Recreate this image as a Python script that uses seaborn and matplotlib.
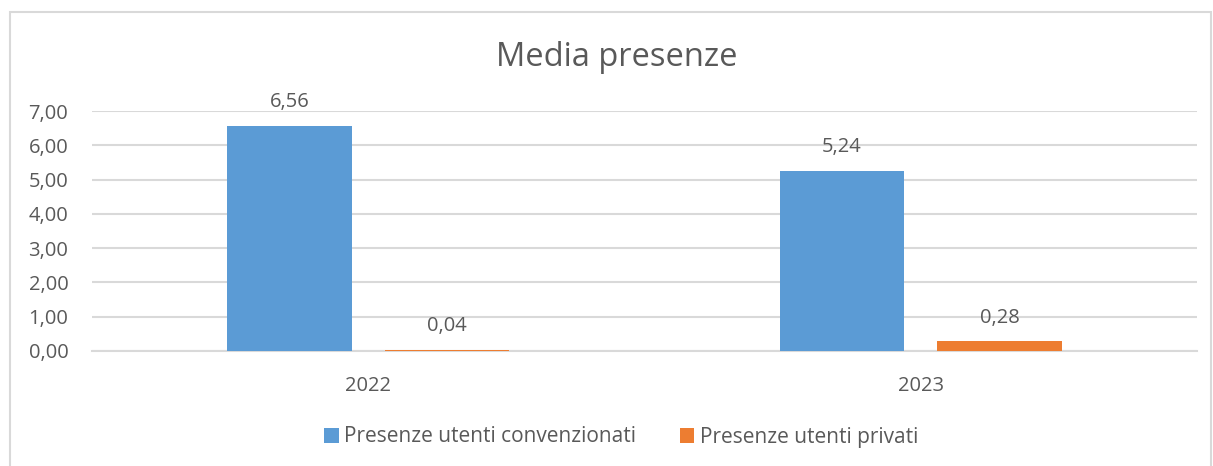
import pandas as pd
import matplotlib
matplotlib.use("Agg")
import matplotlib.pyplot as plt
from matplotlib.patches import Rectangle
from matplotlib.ticker import FuncFormatter, MultipleLocator
import seaborn as sns

# Dati del grafico
anni = ['2022', '2023']
convenzionati = [6.56, 5.24]
privati = [0.04, 0.28]
serie = ['Presenze utenti convenzionati', 'Presenze utenti privati']
colori = ['#5B9BD5', '#ED7D31']

df = pd.DataFrame({
    'anno': anni * 2,
    'valore': convenzionati + privati,
    'serie': [serie[0]] * len(anni) + [serie[1]] * len(anni),
})

sns.set_style("white")
plt.rcParams['font.family'] = ['Open Sans', 'DejaVu Sans']
testo = '#595959'
griglia = '#D9D9D9'

fig = plt.figure(figsize=(12.13, 4.66), dpi=100)
ax = fig.add_axes([0.0758, 0.2468, 0.911, 0.515])

sns.barplot(data=df, x='anno', y='valore', hue='serie', palette=colori,
            saturation=1, width=0.57, gap=0.21, linewidth=0,
            legend=True, ax=ax)

ax.set_ylim(0, 7)
ax.set_xlim(-0.5, 1.5)
ax.yaxis.set_major_locator(MultipleLocator(1))
ax.yaxis.set_major_formatter(FuncFormatter(lambda v, p: f"{v:.2f}".replace('.', ',')))
ax.grid(axis='y', color=griglia, linewidth=1.5)
ax.set_axisbelow(True)
for s in ['top', 'right', 'left']:
    ax.spines[s].set_visible(False)
ax.spines['bottom'].set_color(griglia)
ax.spines['bottom'].set_linewidth(1.5)
ax.spines['bottom'].set_zorder(0.5)
ax.tick_params(axis='both', length=0, labelsize=14.5, colors=testo)
ax.tick_params(axis='x', pad=18)
ax.tick_params(axis='y', pad=17)
ax.set_xlabel('')
ax.set_ylabel('')

# Etichette dati
for cont in ax.containers:
    ax.bar_label(cont, fmt=lambda v: f"{v:.2f}".replace('.', ','),
                 padding=10, fontsize=14.5, color=testo)

# Titolo
fig.text(617 / 1213, 1 - 58 / 466, 'Media presenze', ha='center', va='center',
         fontsize=23.5, color=testo)

# Legenda in basso
handles, labels = ax.get_legend_handles_labels()
ax.get_legend().remove()
fig.legend(handles, labels, loc='center', bbox_to_anchor=(0.512, 1 - 437 / 466),
           ncol=2, frameon=False, fontsize=15, labelcolor=testo,
           handlelength=0.7, handleheight=0.7, handletextpad=0.25,
           columnspacing=2.1)

# Bordo dell'area del grafico
fig.patches.append(Rectangle((10 / 1213, -0.05), 1201 / 1213, 1.05 - 12 / 466,
                             transform=fig.transFigure, fill=False,
                             edgecolor=griglia, linewidth=1.5))

fig.savefig('out.png', dpi=100)
